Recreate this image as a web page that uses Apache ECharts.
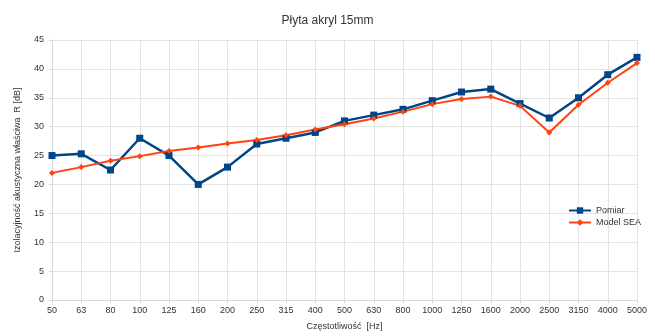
<!DOCTYPE html>
<html>
<head>
<meta charset="utf-8">
<script src="https://cdn.jsdelivr.net/npm/echarts@6/dist/echarts.min.js"></script>
<style>
  html, body { margin: 0; padding: 0; background: #fff; }
  #chart { width: 655px; height: 336px; }
</style>
</head>
<body>
<div id="chart"></div>
<script>
// czestotliwosci pasm tercjowych
var freqs = ['50','63','80','100','125','160','200','250','315','400','500','630','800','1000','1250','1600','2000','2500','3150','4000','5000'];
var pomiar = [25, 25.3, 22.5, 28, 25, 20, 23, 27, 28, 29, 31, 32, 33, 34.5, 36, 36.5, 34, 31.5, 35, 39, 42];
var modelSEA = [22, 23, 24.1, 24.9, 25.8, 26.4, 27.1, 27.7, 28.5, 29.5, 30.4, 31.4, 32.6, 33.9, 34.8, 35.2, 33.6, 29, 33.8, 37.6, 41];

var chart = echarts.init(document.getElementById('chart'));
var font = 'Liberation Sans, Arial, sans-serif';

var option = {
  animation: false,
  title: {
    text: 'Płyta akryl 15mm',
    left: 'center',
    top: 10,
    textStyle: { fontFamily: font, fontSize: 12, fontWeight: 'normal', color: '#333' }
  },
  legend: {
    orient: 'vertical',
    left: 563,
    top: 201,
    itemWidth: 22,
    itemHeight: 8,
    itemGap: 3,
    textStyle: { fontFamily: font, fontSize: 9, color: '#333' },
    data: ['Pomiar', 'Model SEA']
  },
  grid: { left: 52, right: 18, top: 40, bottom: 34 },
  xAxis: {
    type: 'category',
    data: freqs,
    boundaryGap: false,
    name: 'Częstotliwość  [Hz]',
    nameLocation: 'middle',
    nameGap: 22,
    nameTextStyle: { fontFamily: font, fontSize: 9, color: '#333' },
    axisLine: { lineStyle: { color: '#d9d9d9' } },
    axisTick: { show: true, alignWithLabel: true, length: 3, lineStyle: { color: '#d9d9d9' } },
    axisLabel: { fontFamily: font, fontSize: 9, color: '#333', margin: 6, interval: 0 },
    splitLine: { show: true, lineStyle: { color: '#e3e3e3' } }
  },
  yAxis: {
    type: 'value',
    min: 0,
    max: 45,
    interval: 5,
    name: 'Izolacyjność akustyczna właściwa  R [dB]',
    nameLocation: 'middle',
    nameGap: 30,
    nameTextStyle: { fontFamily: font, fontSize: 9, color: '#333' },
    axisLine: { show: true, lineStyle: { color: '#d9d9d9' } },
    axisTick: { show: true, length: 3, lineStyle: { color: '#d9d9d9' } },
    axisLabel: { fontFamily: font, fontSize: 9, color: '#333', margin: 8 },
    splitLine: { lineStyle: { color: '#e3e3e3' } }
  },
  series: [
    {
      name: 'Pomiar',
      type: 'line',
      data: pomiar,
      symbol: 'rect',
      symbolSize: 7,
      color: '#004586',
      lineStyle: { width: 2.5, color: '#004586' },
      itemStyle: { color: '#004586' }
    },
    {
      name: 'Model SEA',
      type: 'line',
      data: modelSEA,
      symbol: 'diamond',
      symbolSize: 6,
      color: '#ff420e',
      lineStyle: { width: 2, color: '#ff420e' },
      itemStyle: { color: '#ff420e' }
    }
  ]
};

chart.setOption(option);
</script>
</body>
</html>
